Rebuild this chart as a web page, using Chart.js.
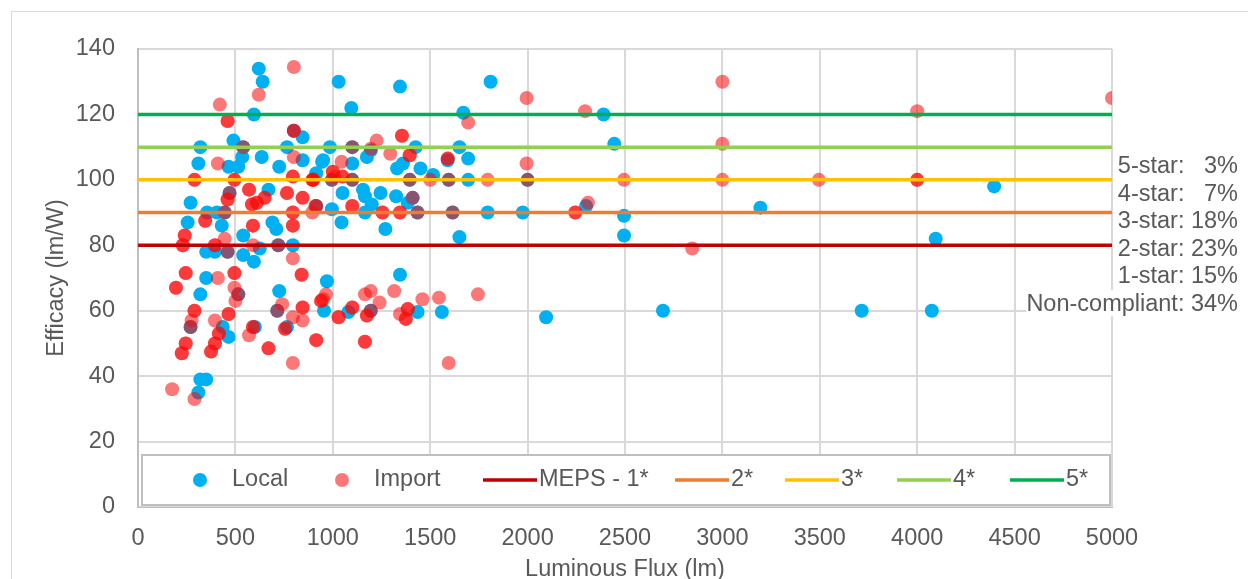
<!DOCTYPE html>
<html>
<head>
<meta charset="utf-8">
<script src="https://cdn.jsdelivr.net/npm/chart.js@4.4.1/dist/chart.umd.min.js"></script>
<style>
  html, body { margin: 0; padding: 0; background: #fff; overflow: hidden; }
  #wrap { position: relative; width: 1248px; height: 579px; }
  #frame { position: absolute; left: 11px; top: 11px; width: 1300px; height: 700px; border: 1px solid #D9D9D9; }
  #chart { position: absolute; left: 0; top: 0; }
  #stars { position: absolute; right: 10px; top: 152px; text-align: right; font: 23.5px "Liberation Sans", Arial, sans-serif;
           color: #595959; line-height: 27.6px; white-space: pre; }
  #stars span { background: #fff; }
</style>
</head>
<body>
<div id="wrap">
  <div id="frame"></div>
  <canvas id="chart" width="1248" height="579"></canvas>
  <div id="stars"></div>
</div>
<script>
// local products: luminous flux (lm) and efficacy (lm/W)
const localFlux = [
  620, 640, 595, 800, 845, 320, 490, 540, 765, 845,
  310, 465, 515, 535, 635, 725, 950, 915, 670, 470,
  915, 270, 355, 405, 445, 255, 430, 690, 710, 540,
  460, 350, 395, 720, 625, 540, 595, 795, 350, 320,
  515, 270, 435, 465, 725, 715, 600, 765, 970, 955,
  320, 350, 310, 1030, 1095, 1345, 1810, 1670, 985, 1100,
  1195, 1425, 945, 1100, 1175, 1330, 1360, 1450, 1515, 1590,
  1650, 1695, 995, 1100, 1395, 1595, 1695, 1050, 1155, 1165,
  1245, 1325, 1410, 1385, 1200, 995, 1045, 1165, 1435, 1615,
  1795, 1270, 1650, 1345, 1080, 1195, 1435, 1560, 1975, 2390,
  2445, 2300, 2495, 2495, 2095, 2695, 3195, 4395, 4095,
  3715, 4075, 2000
];
const localEff = [
  134, 130, 120, 115, 113, 110, 112, 110, 110, 106,
  105, 104, 104, 107, 107, 104, 106, 102, 97, 96,
  92, 93, 90, 90, 90, 87, 86, 87, 85, 83,
  78, 78, 78, 80, 79, 77, 75, 80, 70, 65,
  65, 55, 55, 52, 66, 60, 55, 55, 69, 60,
  39, 39, 35, 130, 122, 128.5, 130, 120.5, 110, 110,
  109, 110, 105.5, 105, 107, 103.5, 105, 103.5, 101.5, 106,
  110, 106.5, 100, 100, 100, 100, 100, 96, 97, 95,
  96, 95, 94.5, 93, 92.5, 91, 87, 90, 90, 90,
  90, 85, 82.5, 71, 59.6, 60, 59.6, 59.6, 90, 120,
  111, 92, 89, 83, 58, 60, 91.5, 98, 82,
  60, 60, 100
];

// imported products (repeated values = several products at the same spot)
const importFlux = [
  800, 420, 620, 460, 460, 800, 800, 540, 800, 410,
  290, 290, 495, 495, 795, 795, 895, 895, 570, 570,
  470, 460, 460, 650, 650, 610, 610, 765, 765, 845,
  845, 915, 585, 585, 345, 345, 445, 590, 590, 795,
  795, 895, 795, 795, 240, 240, 230, 230, 445, 395,
  395, 460, 590, 720, 795, 495, 495, 245, 245, 410,
  195, 195, 495, 515, 500, 290, 290, 275, 270, 465,
  465, 395, 415, 415, 245, 245, 225, 225, 395, 395,
  375, 375, 740, 715, 590, 590, 570, 670, 670, 755,
  755, 795, 845, 845, 845, 915, 915, 795, 840, 840,
  950, 175, 290, 1100, 1195, 1225, 1355, 1355, 1295, 1395,
  1395, 1045, 1590, 1590, 1000, 1000, 1010, 900, 900, 995,
  1050, 1050, 1100, 1395, 1500, 1595, 1795, 1410, 910, 1100,
  1100, 1255, 1255, 1345, 1345, 1435, 1615, 965, 940, 940,
  1165, 1195, 1240, 1315, 1460, 1545, 1745, 1100, 1100, 1030,
  1030, 1195, 1175, 1175, 1345, 1385, 1385, 1375, 1375, 1165,
  1165, 1595, 1695, 1995, 2295, 1995, 2000, 2495, 2245, 2245,
  2310, 3000, 3000, 3000, 3495, 2845, 4000, 5000, 4000, 4000
];
const importEff = [
  134.5, 123, 126, 118, 118, 115, 115, 110, 107, 105,
  100, 100, 100, 100, 101, 101, 100, 100, 97, 97,
  96, 94, 94, 94.5, 94.5, 93, 93, 96, 96, 94.5,
  94.5, 92, 92.5, 92.5, 87.5, 87.5, 90, 86, 86, 90,
  90, 90, 86, 86, 83, 83, 80, 80, 82, 80,
  80, 78, 80, 80, 76, 71.5, 71.5, 71.5, 71.5, 70,
  67, 67, 67, 65, 63, 60, 60, 57, 55, 59,
  59, 57, 53, 53, 50, 50, 47, 47, 50, 50,
  47.5, 47.5, 62, 60, 55, 55, 52.5, 48.5, 48.5, 54.5,
  54.5, 58, 61, 61, 57, 51, 51, 44, 71, 71,
  63.5, 36, 33, 110, 109.5, 112, 113.5, 113.5, 108, 107.5,
  107.5, 105.5, 106.5, 106.5, 102.5, 102.5, 101, 100, 100, 100,
  101, 101, 100, 100, 100, 100, 100, 94.5, 92, 92,
  92, 90, 90, 90, 90, 90, 90, 65, 63, 63,
  65, 66, 62.5, 66, 63.5, 64, 65, 61, 61, 58,
  58, 60, 58.5, 58.5, 59, 60.5, 60.5, 57.5, 57.5, 50.5,
  50.5, 44, 117.5, 125, 121, 105, 100, 100, 90, 90,
  93, 130, 111, 100, 100, 79, 121, 125, 100, 100
];

// MEPS / star rating thresholds
const starLabels = ['MEPS - 1*', '2*', '3*', '4*', '5*'];
const starLevels = [80, 90, 100, 110, 120];
const fluxRange = [0, 5000];

// share of products per rating
const shareLabels = ['5-star:', '4-star:', '3-star:', '2-star:', '1-star:', 'Non-compliant:'];
const shareValues = [3, 7, 18, 23, 15, 34];

const starColors = ['#C00000', '#ED7D31', '#FFC000', '#92D050', '#00B050'];
const FONT = '"Liberation Sans", Arial, sans-serif';
const TXT = '#595959';

const datasets = [];
starLabels.forEach((lab, i) => {
  datasets.push({
    label: lab,
    data: fluxRange.map(x => ({ x: x, y: starLevels[i] })),
    showLine: true,
    borderColor: starColors[i],
    borderWidth: 3.5,
    pointRadius: 0,
    pointHoverRadius: 0,
    order: 0
  });
});
datasets.push({
  label: 'Local',
  data: localFlux.map((x, i) => ({ x: x, y: localEff[i] })),
  backgroundColor: '#00B0F0',
  borderWidth: 0,
  pointRadius: 7,
  pointHoverRadius: 7,
  order: 2
});
datasets.push({
  label: 'Import',
  data: importFlux.map((x, i) => ({ x: x, y: importEff[i] })),
  backgroundColor: 'rgba(250, 10, 10, 0.55)',
  borderWidth: 0,
  pointRadius: 7,
  pointHoverRadius: 7,
  order: 1
});

// legend drawn as a framed box at the bottom of the plot
const legendOrder = ['Local', 'Import', 'MEPS - 1*', '2*', '3*', '4*', '5*'];
const legendX = [193, 335, 483, 675, 785, 897, 1010];
const boxLegend = {
  id: 'boxLegend',
  afterDraw(chart) {
    const ctx = chart.ctx;
    const a = chart.chartArea;
    ctx.save();
    ctx.fillStyle = '#fff';
    ctx.fillRect(a.left + 4, a.bottom - 52, a.right - a.left - 6, 50);
    ctx.strokeStyle = '#BFBFBF';
    ctx.lineWidth = 2;
    ctx.strokeRect(a.left + 4, a.bottom - 52, a.right - a.left - 6, 50);
    const cy = a.bottom - 27;
    ctx.font = '23.5px ' + FONT;
    ctx.textBaseline = 'middle';
    ctx.fillStyle = TXT;
    legendOrder.forEach((name, i) => {
      const ds = chart.data.datasets.find(d => d.label === name);
      const x = legendX[i];
      if (ds.showLine) {
        ctx.strokeStyle = ds.borderColor;
        ctx.lineWidth = 3.5;
        ctx.beginPath();
        ctx.moveTo(x, cy);
        ctx.lineTo(x + 54, cy);
        ctx.stroke();
        ctx.fillStyle = TXT;
        ctx.fillText(name, x + 56, cy);
      } else {
        ctx.fillStyle = ds.backgroundColor;
        ctx.beginPath();
        ctx.arc(x + 7, cy, 7, 0, Math.PI * 2);
        ctx.fill();
        ctx.fillStyle = TXT;
        ctx.fillText(name, x + 39, cy);
      }
    });
    ctx.restore();
  }
};

new Chart(document.getElementById('chart'), {
  type: 'scatter',
  data: { datasets: datasets },
  plugins: [boxLegend],
  options: {
    responsive: false,
    animation: false,
    devicePixelRatio: 1,
    layout: { padding: { left: 0, right: 136, top: 49, bottom: 0 } },
    plugins: { legend: { display: false }, tooltip: { enabled: false } },
    scales: {
      x: {
        type: 'linear',
        min: 0, max: 5000,
        afterFit: s => { s.height = 72; },
        ticks: { stepSize: 500, padding: 17, color: TXT, font: { family: FONT, size: 23.5 }, callback: v => String(v) },
        grid: { color: '#D9D9D9', lineWidth: 2, drawTicks: false },
        border: { color: '#BFBFBF', width: 1 },
        title: { display: true, text: 'Luminous Flux (lm)', color: TXT, font: { family: FONT, size: 23.5 }, padding: { top: 0, bottom: -5 } }
      },
      y: {
        min: 0, max: 140,
        afterFit: s => { s.width = 138; },
        ticks: { stepSize: 20, padding: 23, color: TXT, font: { family: FONT, size: 23.5 }, callback: v => String(v) },
        grid: { color: '#D9D9D9', lineWidth: 2, drawTicks: false },
        border: { color: '#BFBFBF', width: 2 },
        title: { display: true, text: 'Efficacy (lm/W)', color: TXT, font: { family: FONT, size: 23.5 }, padding: { top: 42, bottom: 0 } }
      }
    }
  }
});

// rating shares on the right
const starsBox = document.getElementById('stars');
starsBox.innerHTML = shareLabels.map((lab, i) => {
  const pad = shareValues[i] < 10 ? '   ' : ' ';
  return '<span>' + lab + pad + shareValues[i] + '%</span>';
}).join('\n');
</script>
</body>
</html>
